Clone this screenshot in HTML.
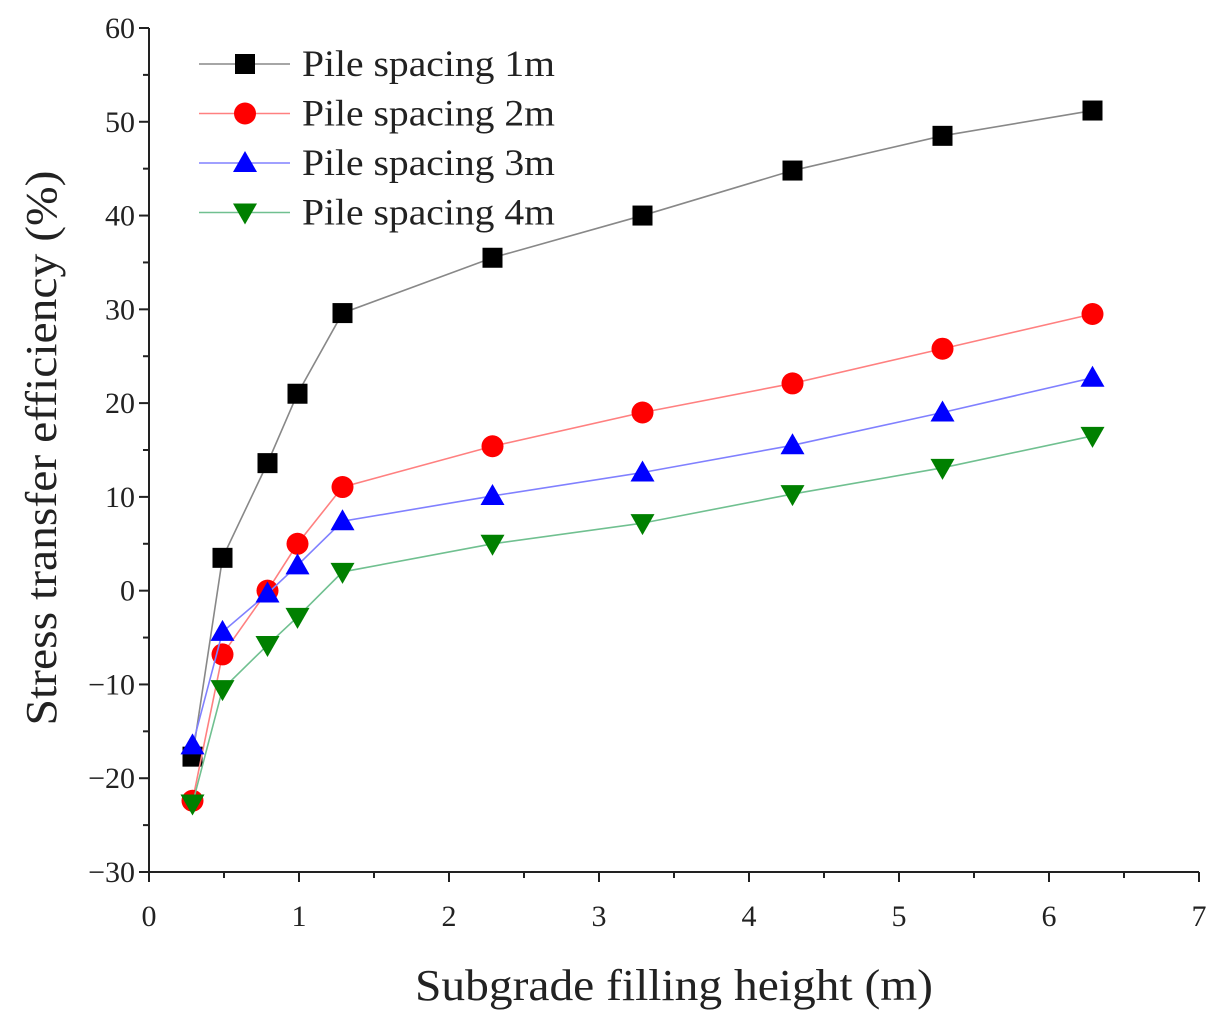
<!DOCTYPE html>
<html><head><meta charset="utf-8"><style>
html,body{margin:0;padding:0;background:#fff;}
svg{display:block;font-family:"Liberation Serif",serif;}
</style></head><body>
<svg id="chart" width="1221" height="1023" viewBox="0 0 1221 1023"></svg>
<script>
const xValues = [0.29, 0.49, 0.79, 0.99, 1.29, 2.29, 3.29, 4.29, 5.29, 6.29];
const series1m = [-17.7, 3.5, 13.6, 21, 29.6, 35.5, 40, 44.8, 48.5, 51.2];
const series2m = [-22.4, -6.8, 0, 5, 11.05, 15.4, 19, 22.1, 25.8, 29.5];
const series3m = [-16.5, -4.4, -0.3, 2.7, 7.4, 10.1, 12.6, 15.5, 19, 22.7];
const series4m = [-22.7, -10.5, -5.8, -2.8, 2, 5, 7.2, 10.3, 13.1, 16.5];
const seriesLabels = ["Pile spacing 1m","Pile spacing 2m","Pile spacing 3m","Pile spacing 4m"];
const xTicks = [0,1,2,3,4,5,6,7];
const yTicks = [-30,-20,-10,0,10,20,30,40,50,60];

const NS="http://www.w3.org/2000/svg";
const svg=document.getElementById('chart');
const X0=149,X1=1199,Y0=872,Y1=28;
const xs=v=>X0+(v-0)/7*(X1-X0);
const ys=v=>Y0-(v+30)/90*(Y0-Y1);
function el(t,a,p){const e=document.createElementNS(NS,t);for(const k in a)e.setAttribute(k,a[k]);(p||svg).appendChild(e);return e;}

const axes=el('g',{});


let a=el('line',{x1:X0,y1:Y1,x2:X0,y2:Y0+1,stroke:'#222','stroke-width':2},axes);


a=el('line',{x1:X0-1,y1:Y0,x2:X1,y2:Y0,stroke:'#222','stroke-width':2},axes);


for(let i=0;i<yTicks.length;i++){
  const v=yTicks[i],y=ys(v);
  el('line',{x1:X0-10,y1:y,x2:X0,y2:y,stroke:'#222','stroke-width':2},axes);
  if(i<yTicks.length-1){const m=ys(v+5);el('line',{x1:X0-6,y1:m,x2:X0,y2:m,stroke:'#222','stroke-width':2},axes);}
  const t=el('text',{x:X0-14,y:y+10,'text-anchor':'end','font-size':30,fill:'#222'},axes);
  t.textContent=(v<0?'\u2212'+(-v):v);
  
  
}
for(let i=0;i<xTicks.length;i++){
  const v=xTicks[i],x=xs(v);
  el('line',{x1:x,y1:Y0,x2:x,y2:Y0+10,stroke:'#222','stroke-width':2},axes);
  if(i<xTicks.length-1){const m=xs(v+0.5);el('line',{x1:m,y1:Y0,x2:m,y2:Y0+6,stroke:'#222','stroke-width':2},axes);}
  const t=el('text',{x:x,y:Y0+54,'text-anchor':'middle','font-size':30,fill:'#222'},axes);
  t.textContent=v;
  
  
}
let t=el('text',{x:674,y:1000,'text-anchor':'middle','font-size':44,fill:'#222',textLength:518,lengthAdjust:'spacingAndGlyphs'});
t.textContent='Subgrade filling height (m)';


t=el('text',{x:0,y:0,'text-anchor':'middle','font-size':44,fill:'#222',textLength:555,lengthAdjust:'spacingAndGlyphs',transform:'translate(56,448) rotate(-90)'});
t.textContent='Stress transfer efficiency (%)';



const styles=[
 {line:'#888',fill:'#000',shape:'square'},
 {line:'#ff8080',fill:'#ff0000',shape:'circle'},
 {line:'#8080ff',fill:'#0000ff',shape:'up'},
 {line:'#70c090',fill:'#008000',shape:'down'}];
function marker(g,shape,x,y,fill){
  if(shape==='square')return el('rect',{x:x-10,y:y-10,width:20,height:20,fill:fill},g);
  if(shape==='circle')return el('circle',{cx:x,cy:y,r:11,fill:fill},g);
  if(shape==='up')return el('polygon',{points:`${x-12},${y+9} ${x+12},${y+9} ${x},${y-12}`,fill:fill},g);
  return el('polygon',{points:`${x-12},${y-9} ${x+12},${y-9} ${x},${y+12}`,fill:fill},g);
}
const allSeries=[series1m,series2m,series3m,series4m];
allSeries.forEach((vals,si)=>{
  const g=el('g',{});
  
  
  const pl=el('polyline',{points:vals.map((v,i)=>xs(xValues[i])+','+ys(v)).join(' '),fill:'none',stroke:styles[si].line,'stroke-width':1.6},g);
  
  
  vals.forEach((v,i)=>{
    const m=marker(g,styles[si].shape,xs(xValues[i]),ys(v),styles[si].fill);
    
    
  });
});
const lg=el('g',{});


seriesLabels.forEach((lab,i)=>{
  const y=64+i*49.5;
  const g=el('g',{},lg);
  
  
  el('line',{x1:199,y1:y,x2:290,y2:y,stroke:styles[i].line,'stroke-width':1.6},g);
  marker(g,styles[i].shape,245,y,styles[i].fill);
  const tx=el('text',{x:302,y:y+12,'font-size':37,fill:'#222',textLength:253,lengthAdjust:'spacingAndGlyphs'},g);
  tx.textContent=lab;
});
</script>
</body></html>
